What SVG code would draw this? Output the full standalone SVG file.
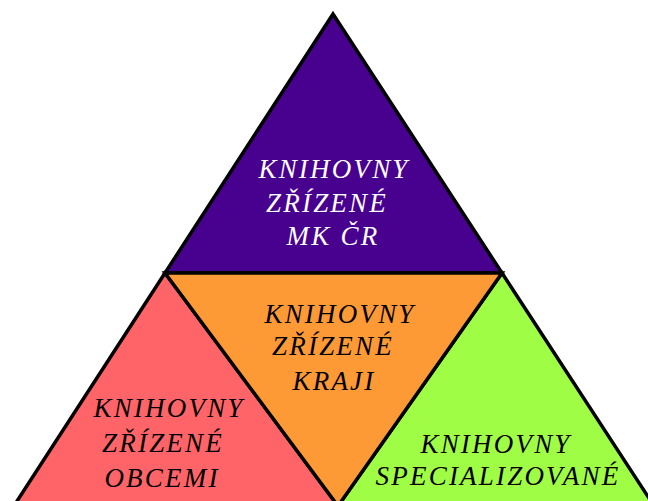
<svg xmlns="http://www.w3.org/2000/svg" width="648" height="501" viewBox="0 0 648 501">
<style>
.tri{stroke:#000;stroke-width:3.5;stroke-linejoin:miter}
.t{font-family:"Liberation Serif","DejaVu Serif",serif;font-style:italic;font-size:27px;letter-spacing:2.2px;text-anchor:middle}
.w{fill:#fff}
.k{fill:#000}
</style>
<rect width="648" height="501" fill="#fff"/>
<g id="top">
<polygon class="tri" fill="#48008f" points="333,14 165,273 502,273"/>
<text class="t w" x="334" y="178">KNIHOVNY</text>
<text class="t w" x="327" y="212">ZŘÍZENÉ</text>
<text class="t w" x="333" y="245">MK ČR</text>
</g>
<g id="left">
<polygon class="tri" fill="#ff6468" points="165,273 8,515 338,506"/>
<text class="t k" x="169" y="417">KNIHOVNY</text>
<text class="t k" x="163" y="452">ZŘÍZENÉ</text>
<text class="t k" x="162" y="487">OBCEMI</text>
</g>
<g id="right">
<polygon class="tri" fill="#a0fd45" points="502,273 338,506 660,515"/>
<text class="t k" x="496" y="453">KNIHOVNY</text>
<text class="t k" x="498" y="485">SPECIALIZOVANÉ</text>
</g>
<g id="middle">
<polygon class="tri" fill="#fe9a36" points="165,273 502,273 338,506"/>
<text class="t k" x="340" y="323">KNIHOVNY</text>
<text class="t k" x="333" y="355">ZŘÍZENÉ</text>
<text class="t k" x="334" y="390">KRAJI</text>
</g>
<g id="connectors"></g>
</svg>
